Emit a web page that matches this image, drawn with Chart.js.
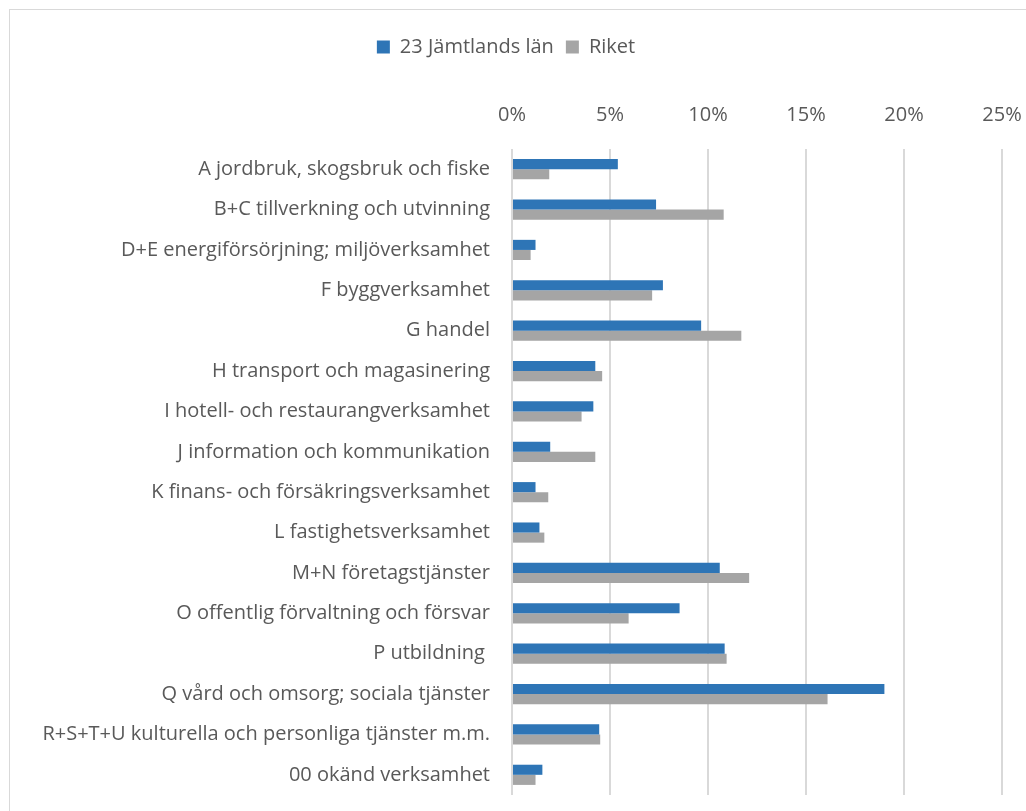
<!DOCTYPE html>
<html>
<head>
<meta charset="utf-8">
<script src="https://cdn.jsdelivr.net/npm/chart.js@4/dist/chart.umd.min.js"></script>
<style>
  body { margin: 0; background: #fff; overflow: hidden; }
  #box { position: absolute; left: 9px; top: 9px; width: 1040px; height: 830px; border: 1px solid #d9d9d9; }
  #wrap { position: absolute; left: 10px; top: 10px; width: 1016px; height: 801px; }
</style>
</head>
<body>
<div id="box"></div>
<div id="wrap"><canvas id="myChart"></canvas></div>
<script>
const categories = [
  'A jordbruk, skogsbruk och fiske',
  'B+C tillverkning och utvinning',
  'D+E energiförsörjning; miljöverksamhet',
  'F byggverksamhet',
  'G handel',
  'H transport och magasinering',
  'I hotell- och restaurangverksamhet',
  'J information och kommunikation',
  'K finans- och försäkringsverksamhet',
  'L fastighetsverksamhet',
  'M+N företagstjänster',
  'O offentlig förvaltning och försvar',
  'P utbildning ',
  'Q vård och omsorg; sociala tjänster',
  'R+S+T+U kulturella och personliga tjänster m.m.',
  '00 okänd verksamhet'
];
const jamtland = [5.4, 7.35, 1.2, 7.7, 9.65, 4.25, 4.15, 1.95, 1.2, 1.4, 10.6, 8.55, 10.85, 19.0, 4.45, 1.55];
const riket = [1.9, 10.8, 0.95, 7.15, 11.7, 4.6, 3.55, 4.25, 1.85, 1.65, 12.1, 5.95, 10.95, 16.1, 4.5, 1.2];
const tickLabels = ['0%', '5%', '10%', '15%', '20%', '25%'];

const font = "Open Sans";

const data = {
  labels: categories,
  datasets: [{
    label: '23 Jämtlands län',
    backgroundColor: '#2e75b6',
    data: jamtland,
  }, {
    label: 'Riket',
    backgroundColor: '#a5a5a5',
    data: riket,
  }]
};

// tick padding is counted into the chart-area margins by Chart.js,
// so label spacing is done with invisible tick marks instead
const config = {
  type: 'bar',
  data: data,
  options: {
    indexAxis: 'y',
    responsive: true,
    maintainAspectRatio: false,
    animation: false,
    categoryPercentage: 0.5,
    barPercentage: 1.0,
    layout: { padding: { top: 15, right: 24, bottom: 16, left: 0 } },
    plugins: {
      tooltip: { enabled: false },
      legend: {
        position: 'top',
        labels: {
          boxWidth: 13, boxHeight: 13, padding: 12,
          color: '#595959',
          font: { family: font, size: 20 }
        }
      }
    },
    scales: {
      x: {
        position: 'top',
        min: 0, max: 25,
        ticks: {
          stepSize: 5,
          padding: 0,
          color: '#595959',
          font: { family: font, size: 20 },
          callback: (v, i) => tickLabels[i]
        },
        grid: { color: '#d9d9d9', lineWidth: 2, drawTicks: true, tickLength: 22, tickColor: 'rgba(0,0,0,0)' },
        border: { display: false },
        afterFit: s => { s.height = 82; }
      },
      y: {
        ticks: {
          padding: 0,
          color: '#595959',
          font: { family: font, size: 20 }
        },
        grid: { display: true, color: 'rgba(0,0,0,0)', drawTicks: true, tickLength: 22, tickColor: 'rgba(0,0,0,0)' },
        border: { display: false },
        afterFit: s => { s.width = 502; }
      }
    }
  }
};

const myChart = new Chart(document.getElementById('myChart').getContext('2d'), config);
</script>
</body>
</html>
